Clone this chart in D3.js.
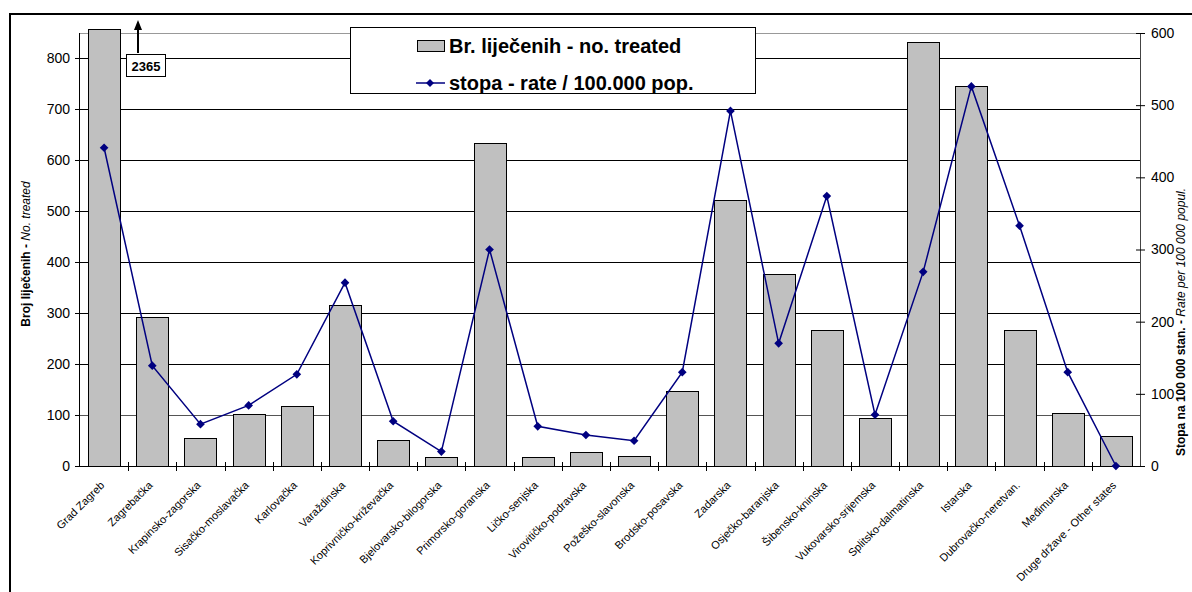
<!DOCTYPE html>
<html>
<head>
<meta charset="utf-8">
<script src="https://cdn.jsdelivr.net/npm/d3@7"></script>
<style>
  body { margin: 0; background: #fff; }
  svg { font-family: "Liberation Sans", Arial, sans-serif; }
</style>
</head>
<body>
<svg id="chart"></svg>
<script>
const width = 1192;
const height = 592;

const counties = ["Grad Zagreb", "Zagrebačka", "Krapinsko-zagorska", "Sisačko-moslavačka", "Karlovačka",
  "Varaždinska", "Koprivničko-križevačka", "Bjelovarsko-bilogorska", "Primorsko-goranska", "Ličko-senjska",
  "Virovitičko-podravska", "Požeško-slavonska", "Brodsko-posavska", "Zadarska", "Osječko-baranjska",
  "Šibensko-kninska", "Vukovarsko-srijemska", "Splitsko-dalmatinska", "Istarska", "Dubrovačko-neretvan.",
  "Međimurska", "Druge države - Other states"];
const treated = [2365, 292, 54, 102, 118, 315, 50, 17, 633, 18, 27, 19, 148, 521, 376, 266, 95, 831, 746, 266, 103, 58];
const rate = [441, 139, 58, 84, 127, 254, 62, 20, 300, 55, 43, 35, 130, 492, 170, 374, 71, 269, 526, 333, 130, 0];
const leftTicks = [0, 100, 200, 300, 400, 500, 600, 700, 800];
const rightTicks = [0, 100, 200, 300, 400, 500, 600];

const pLeft = 80, pRight = 1140, pTop = 33, pBottom = 466;

const svg = d3.select("#chart").attr("width", width).attr("height", height);

// outer chart border (runs off the picture on the right and bottom)
svg.append("rect")
   .attr("x", 10).attr("y", 14).attr("width", 1220).attr("height", 620)
   .attr("fill", "none").attr("stroke", "#000").attr("stroke-width", 2);

const x = d3.scaleBand().domain(counties).range([pLeft, pRight]).paddingInner(0.336).paddingOuter(0.168);
const yL = d3.scaleLinear().domain([0, 849]).range([pBottom, pTop]);
const yR = d3.scaleLinear().domain([0, 600]).range([pBottom, pTop]);

// gridlines
svg.append("g").selectAll("line")
   .data(leftTicks.slice(1))
   .join("line")
   .attr("x1", pLeft).attr("x2", pRight)
   .attr("y1", d => Math.round(yL(d)) + 0.5).attr("y2", d => Math.round(yL(d)) + 0.5)
   .attr("stroke", d => d === 100 ? "#555" : "#000").attr("stroke-width", 1);

svg.append("line")
   .attr("x1", pLeft).attr("x2", pRight).attr("y1", pTop + 0.5).attr("y2", pTop + 0.5)
   .attr("stroke", "#999");

// bars
const barTop = 857;
svg.append("g").selectAll("rect")
   .data(counties)
   .join("rect")
   .attr("x", d => Math.round(x(d)) + 0.5)
   .attr("y", (d, i) => Math.round(yL(Math.min(treated[i], barTop))) + 0.5)
   .attr("width", Math.round(x.bandwidth()))
   .attr("height", (d, i) => pBottom - Math.round(yL(Math.min(treated[i], barTop))))
   .attr("fill", "#c0c0c0").attr("stroke", "#000").attr("stroke-width", 1);

// left axis
const axL = svg.append("g")
   .attr("transform", `translate(${pLeft},0)`)
   .call(d3.axisLeft(yL).tickValues(leftTicks).tickSize(5).tickPadding(5));
axL.select(".domain").attr("stroke", "#000").attr("d", `M-0.5,${pTop}V${pBottom}`);
axL.selectAll("text").attr("font-size", 14).attr("font-family", "Liberation Sans, Arial, sans-serif").attr("fill", "#000");

// right axis
const axR = svg.append("g")
   .attr("transform", `translate(${pRight},0)`)
   .call(d3.axisRight(yR).tickValues(rightTicks).tickSize(5).tickPadding(6));
axR.select(".domain").attr("stroke", "#444").attr("d", `M0.5,${pTop}V${pBottom}`);
axR.selectAll(".tick line").attr("x1", -4).attr("stroke", "#000");
axR.selectAll("text").attr("font-size", 14).attr("font-family", "Liberation Sans, Arial, sans-serif").attr("fill", "#000");

// x axis
const gap = (x.step() - x.bandwidth()) / 2;
const axX = svg.append("g").attr("transform", `translate(0,${pBottom})`);
axX.append("line").attr("x1", pLeft).attr("x2", pRight).attr("y1", 0.5).attr("y2", 0.5).attr("stroke", "#000");
axX.selectAll(".xt")
   .data(counties.slice(1))
   .join("line")
   .attr("class", "xt")
   .attr("x1", d => Math.round(x(d) - gap) + 0.5)
   .attr("x2", d => Math.round(x(d) - gap) + 0.5)
   .attr("y1", -4).attr("y2", 5)
   .attr("stroke", "#000");
axX.selectAll(".xl")
   .data(counties)
   .join("text")
   .attr("class", "xl")
   .attr("text-anchor", "end")
   .attr("font-size", 11)
   .attr("transform", d => `translate(${x(d) + x.bandwidth() / 2 + 1},20) rotate(-45)`)
   .text(d => d);

// rate line
const line = d3.line()
   .x((d, i) => x(counties[i]) + x.bandwidth() / 2)
   .y(d => yR(d));
svg.append("path")
   .datum(rate)
   .attr("d", line)
   .attr("fill", "none").attr("stroke", "#000080").attr("stroke-width", 1.5);
svg.append("g").selectAll("path")
   .data(rate)
   .join("path")
   .attr("d", d3.symbol(d3.symbolDiamond2, 48))
   .attr("transform", (d, i) => `translate(${x(counties[i]) + x.bandwidth() / 2},${yR(d)})`)
   .attr("fill", "#000080");

// axis titles
const tL = svg.append("text")
   .attr("transform", "translate(30,254) rotate(-90)")
   .attr("text-anchor", "middle").attr("font-size", 12);
tL.append("tspan").attr("font-weight", "bold").text("Broj liječenih - ");
tL.append("tspan").attr("font-style", "italic").text("No. treated");

const tR = svg.append("text")
   .attr("transform", "translate(1185,322) rotate(-90)")
   .attr("text-anchor", "middle").attr("font-size", 12);
tR.append("tspan").attr("font-weight", "bold").text("Stopa na 100 000 stan. - ");
tR.append("tspan").attr("font-style", "italic").text("Rate per 100 000 popul.");

// annotation for clipped bar
const ax0 = 138;
svg.append("line").attr("x1", ax0).attr("x2", ax0).attr("y1", 53).attr("y2", 28)
   .attr("stroke", "#000").attr("stroke-width", 2);
svg.append("path").attr("d", `M${ax0},20L${ax0 - 4},30L${ax0 + 4},30Z`).attr("fill", "#000");
svg.append("rect").attr("x", 126.5).attr("y", 54.5).attr("width", 39).attr("height", 22)
   .attr("fill", "#fff").attr("stroke", "#000");
svg.append("text").attr("x", 146).attr("y", 70.5).attr("text-anchor", "middle")
   .attr("font-size", 13).attr("font-weight", "bold").text(treated[0]);

// legend
const lg = svg.append("g");
lg.append("rect").attr("x", 350.5).attr("y", 27.5).attr("width", 405).attr("height", 66)
   .attr("fill", "#fff").attr("stroke", "#000");
lg.append("rect").attr("x", 417.5).attr("y", 40.5).attr("width", 27).attr("height", 11)
   .attr("fill", "#c0c0c0").attr("stroke", "#000");
lg.append("text").attr("x", 449).attr("y", 53).attr("font-size", 20).attr("font-weight", "bold")
   .text("Br. liječenih - no. treated");
lg.append("line").attr("x1", 416).attr("x2", 445).attr("y1", 83).attr("y2", 83)
   .attr("stroke", "#000080").attr("stroke-width", 1.5);
lg.append("path").attr("d", d3.symbol(d3.symbolDiamond2, 40)).attr("transform", "translate(430,83)")
   .attr("fill", "#000080");
lg.append("text").attr("x", 449).attr("y", 90).attr("font-size", 20).attr("font-weight", "bold")
   .text("stopa - rate / 100.000 pop.");
</script>
</body>
</html>
